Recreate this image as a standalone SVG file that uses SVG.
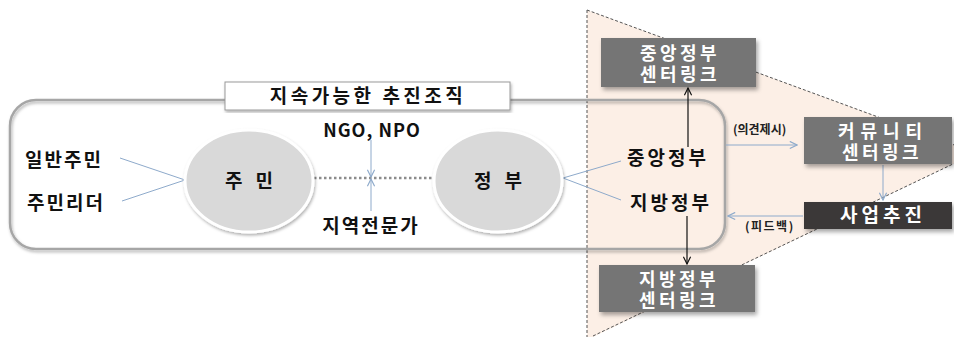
<svg xmlns="http://www.w3.org/2000/svg" width="954" height="337" viewBox="0 0 954 337">
<defs>
<filter id="sh" x="-10%" y="-10%" width="130%" height="140%">
<feDropShadow dx="2" dy="3" stdDeviation="2" flood-color="#000" flood-opacity="0.35"/>
</filter>
<filter id="shl" x="-5%" y="-5%" width="110%" height="115%">
<feDropShadow dx="1" dy="2" stdDeviation="1.5" flood-color="#000" flood-opacity="0.3"/>
</filter>
<marker id="ab" viewBox="0 0 10 10" refX="9" refY="5" markerWidth="9" markerHeight="9" orient="auto" markerUnits="userSpaceOnUse">
<path d="M1,1 L9,5 L1,9" fill="none" stroke="#8eaacb" stroke-width="1.3"/>
</marker>
<marker id="ak" viewBox="0 0 10 10" refX="9" refY="5" markerWidth="9" markerHeight="9" orient="auto" markerUnits="userSpaceOnUse">
<path d="M1,1 L9,5 L1,9" fill="none" stroke="#111" stroke-width="1.3"/>
</marker>
</defs>
<style>
text{font-family:"Noto Sans CJK KR","Noto Sans",sans-serif;font-weight:bold;}
.lbl{font-size:19px;fill:#111;letter-spacing:2px;}
.wt{font-size:18px;fill:#fff;letter-spacing:3.5px;text-anchor:middle;}
.sm{font-size:12px;fill:#222;}
.box{fill:#747474;filter:url(#sh);}
.dark{fill:#3b3838;filter:url(#sh);}
.ln{stroke:#8eaacb;stroke-width:1;fill:none;}
.ell{fill:#d9d9d9;stroke:#fff;stroke-width:3;filter:url(#shl);}
</style>
<rect width="954" height="337" fill="#fff"/>
<g id="zone">
<path d="M587,10 L976,153 L593,337 L587,337 Z" fill="#fcefe6"/>
<path d="M587,10 L976,153 M593,336 L976,153" stroke="#555" stroke-width="1" stroke-dasharray="3,2" fill="none"/>
<line x1="587" y1="10" x2="587" y2="337" stroke="#555" stroke-width="1" stroke-dasharray="3,2"/>
</g>
<g id="org">
<rect x="10" y="100" width="715" height="149" rx="26" fill="none" stroke="#a6a6a6" stroke-width="2.5" filter="url(#shl)"/>
</g>
<g id="title">
<rect x="225" y="82" width="285" height="28" fill="#fff" stroke="#999" stroke-width="1" filter="url(#shl)"/>
<text x="368" y="103" text-anchor="middle" style="font-size:19px;letter-spacing:3.5px;fill:#111">지속가능한 추진조직</text>
</g>
<g id="connectors">
<line class="ln" x1="120" y1="158" x2="185" y2="180"/>
<line class="ln" x1="122" y1="201" x2="185" y2="180"/>
<line x1="314" y1="178" x2="435" y2="178" stroke="#8c8c8c" stroke-width="2.5" stroke-dasharray="2.5,2.5"/>
<line class="ln" x1="371" y1="140" x2="371" y2="177" marker-end="url(#ab)"/>
<line class="ln" x1="371" y1="211" x2="371" y2="179" marker-end="url(#ab)"/>
<line class="ln" x1="563" y1="178" x2="621" y2="161"/>
<line class="ln" x1="563" y1="178" x2="621" y2="200"/>
<line x1="688" y1="147" x2="688" y2="88" stroke="#111" stroke-width="1.2" marker-end="url(#ak)"/>
<line x1="687" y1="216" x2="687" y2="264" stroke="#111" stroke-width="1.2" marker-end="url(#ak)"/>
<line class="ln" x1="726" y1="145" x2="797" y2="145" marker-end="url(#ab)"/>
<line class="ln" x1="803" y1="216" x2="728" y2="216" marker-end="url(#ab)"/>
<line class="ln" x1="883" y1="165" x2="883" y2="200" marker-end="url(#ab)"/>
</g>
<g id="ilban"><text class="lbl" x="25" y="167">일반주민</text></g>
<g id="leader"><text class="lbl" x="27" y="210">주민리더</text></g>
<g id="jumin">
<ellipse class="ell" cx="249" cy="181" rx="64" ry="51"/>
<text x="249" y="188" text-anchor="middle" style="font-size:19px;fill:#111" xml:space="preserve">주   민</text>
</g>
<g id="jeongbu">
<ellipse class="ell" cx="498" cy="181" rx="64" ry="51"/>
<text x="498" y="188" text-anchor="middle" style="font-size:19px;fill:#111" xml:space="preserve">정   부</text>
</g>
<g id="ngo"><text x="372" y="137" text-anchor="middle" style="font-size:18px;letter-spacing:1px;fill:#111">NGO, NPO</text></g>
<g id="expert"><text x="371" y="233" text-anchor="middle" class="lbl">지역전문가</text></g>
<g id="central"><text class="lbl" x="627" y="165" style="letter-spacing:3px">중앙정부</text></g>
<g id="local"><text class="lbl" x="630" y="210" style="letter-spacing:3px">지방정부</text></g>
<g id="central-link">
<rect class="box" x="601" y="38" width="155" height="49"/>
<text class="wt"><tspan x="680" y="60">중앙정부</tspan><tspan x="680" y="81">센터링크</tspan></text>
</g>
<g id="local-link">
<rect class="box" x="599" y="265" width="156" height="47"/>
<text class="wt"><tspan x="679" y="286">지방정부</tspan><tspan x="679" y="307">센터링크</tspan></text>
</g>
<g id="community-link">
<rect class="box" x="804" y="117" width="148" height="47"/>
<text class="wt"><tspan x="883" y="138" style="letter-spacing:6px">커뮤니티</tspan><tspan x="882" y="159">센터링크</tspan></text>
</g>
<g id="project">
<rect class="dark" x="804" y="202" width="148" height="27"/>
<text class="wt" x="883" y="222" style="font-size:19px;letter-spacing:4px">사업추진</text>
</g>
<g id="opinion"><text class="sm" x="733" y="134">(의견제시)</text></g>
<g id="feedback"><text class="sm" x="745" y="231" style="letter-spacing:1.5px">(피드백)</text></g>
</svg>
